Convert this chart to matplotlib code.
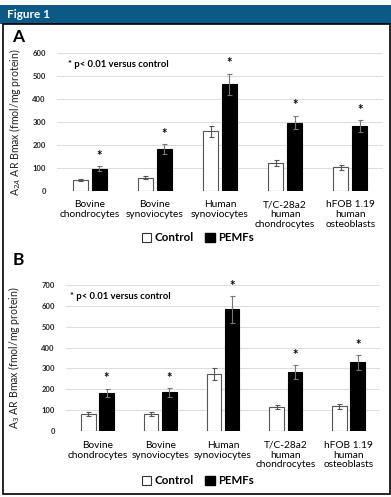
import matplotlib.pyplot as plt
from matplotlib.patches import Patch, Rectangle
import numpy as np

plt.rcParams['font.family'] = ['Lato', 'DejaVu Sans']

# cell types shared by both panels
categories = ['Bovine\nchondrocytes', 'Bovine\nsynoviocytes', 'Human\nsynoviocytes',
              'T/C-28a2\nhuman\nchondrocytes', 'hFOB 1.19\nhuman\nosteoblasts']

# panel A: A2A receptor density
a2a_control = [46, 57, 259, 120, 103]
a2a_control_err = [5, 6, 25, 12, 11]
a2a_pemf = [96, 182, 464, 297, 281]
a2a_pemf_err = [10, 20, 46, 30, 27]

# panel B: A3 receptor density
a3_control = [81, 83, 272, 115, 118]
a3_control_err = [8, 9, 28, 10, 11]
a3_pemf = [184, 185, 583, 283, 329]
a3_pemf_err = [19, 20, 63, 32, 35]

W, H = 391, 497
fig = plt.figure(figsize=(W / 100, H / 100), dpi=100)

# header bar and frame
fig.patches.append(Rectangle((0, 1 - 24 / H), 1, 19 / H, transform=fig.transFigure,
                             facecolor='#0b5a86', edgecolor='none'))
fig.text(7 / W, 1 - 14.5 / H, 'Figure 1', color='white', fontsize=8.5,
         fontweight='bold', va='center', ha='left')
fig.patches.append(Rectangle((2.5 / W, 3 / H), 387 / W, (H - 27) / H, transform=fig.transFigure,
                             facecolor='none', edgecolor='black', linewidth=1.2))


def draw_panel(rect, control, control_err, pemf, pemf_err, ymax, ylabel, label_x, note_xy, legend_y):
    ax = fig.add_axes(rect)
    x = np.arange(len(categories))
    bw = 0.23
    off = 0.145
    ax.bar(x - off, control, bw, color='white', edgecolor='#555555', linewidth=0.8, zorder=3)
    ax.bar(x + off, pemf, bw, color='black', edgecolor='black', linewidth=0.8, zorder=3)
    ax.errorbar(x - off, control, yerr=control_err, fmt='none', ecolor='#555555',
                elinewidth=0.8, capsize=1.8, capthick=0.8, zorder=4)
    ax.errorbar(x + off, pemf, yerr=pemf_err, fmt='none', ecolor='#777777',
                elinewidth=0.8, capsize=1.8, capthick=0.8, zorder=4)

    # significance marks
    for xi, v, e in zip(x + off, pemf, pemf_err):
        ax.annotate('*', (xi, v + e), xytext=(0, 3), textcoords='offset points',
                    ha='center', va='bottom', fontsize=9.5, fontweight='bold')

    ax.set_xlim(-0.5, len(categories) - 0.5)
    ax.set_ylim(0, ymax)
    ax.set_yticks(np.arange(0, ymax + 1, 100))
    ax.yaxis.grid(True, color='#dddddd', linewidth=0.8, zorder=0)
    ax.set_axisbelow(True)
    for s in ax.spines.values():
        s.set_visible(False)
    ax.tick_params(axis='both', length=0)
    ax.tick_params(axis='y', labelsize=5.5, pad=8, labelcolor='#222222')
    ax.set_xticks(x)
    ax.set_xticklabels(categories, fontsize=7.3, linespacing=1.12)
    ax.tick_params(axis='x', pad=7)
    for t in ax.get_yticklabels():
        t.set_fontweight('bold')

    ax.set_ylabel(ylabel, fontsize=7.6, color='#222222')
    ax.yaxis.set_label_coords(label_x, 0.5)
    ax.text(note_xy[0], note_xy[1], '* p< 0.01 versus control', transform=ax.transAxes,
            fontsize=6.8, fontweight='bold', va='center', ha='left')

    handles = [Patch(facecolor='white', edgecolor='#333333', linewidth=0.8),
               Patch(facecolor='black', edgecolor='black')]
    fig.legend(handles, ['Control', 'PEMFs'], loc='center', bbox_to_anchor=(198 / W, legend_y),
               ncol=2, frameon=False, prop={'weight': 'bold', 'size': 8.3},
               handlelength=0.8, handleheight=0.8, handletextpad=0.3, columnspacing=1.0)
    return ax


draw_panel([57 / W, 1 - 190.7 / H, 326 / W, 137.7 / H], a2a_control, a2a_control_err,
           a2a_pemf, a2a_pemf_err, 600, 'A$_{2A}$ AR Bmax (fmol/mg protein)', -0.105,
           (0.034, 0.913), 1 - 238 / H)
draw_panel([66 / W, 1 - 431 / H, 314 / W, 146 / H], a3_control, a3_control_err,
           a3_pemf, a3_pemf_err, 700, 'A$_3$ AR Bmax (fmol/mg protein)', -0.14,
           (0.013, 0.92), 1 - 481 / H)

fig.text(18 / W, 1 - 37 / H, 'A', fontsize=12.5, fontweight='bold', ha='center', va='center')
fig.text(18 / W, 1 - 260 / H, 'B', fontsize=12.5, fontweight='bold', ha='center', va='center')

fig.savefig('out.png', dpi=100)
